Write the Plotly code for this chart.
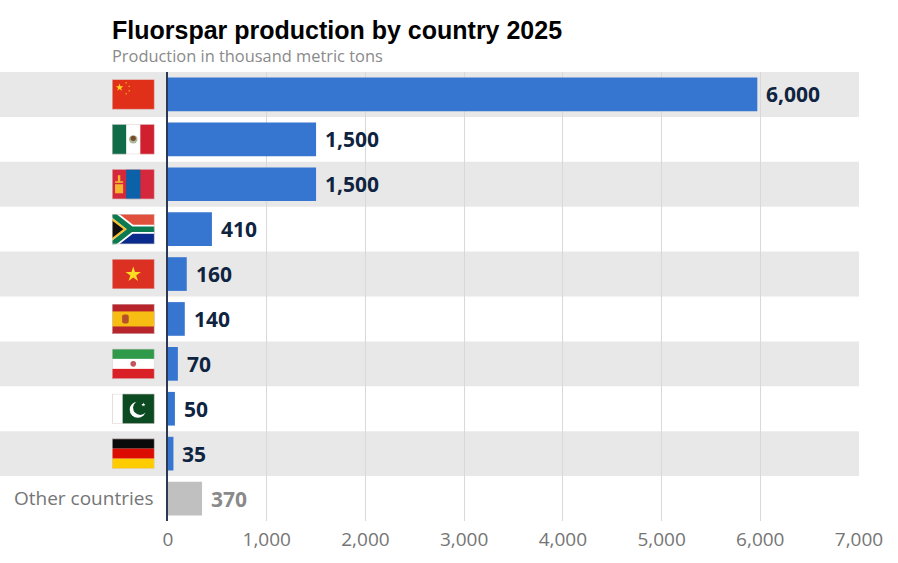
'''
Fluorspar production by country, horizontal bar chart with flag images
'''

import base64

import plotly.graph_objects as go

countries = ['China', 'Mexico', 'Mongolia', 'South Africa', 'Vietnam', 'Spain',
             'Iran', 'Pakistan', 'Germany', 'Other countries']
# bar lengths as drawn in the picture, they differ a bit from the printed labels
bar_lengths = [5970, 1500, 1500, 445, 190, 170, 100, 70, 55, 345]
value_labels = ['6,000', '1,500', '1,500', '410', '160', '140', '70', '50', '35', '370']
row_labels = ['', '', '', '', '', '', '', '', '', 'Other countries']
x_ticks = [0, 1000, 2000, 3000, 4000, 5000, 6000, 7000]
x_tick_labels = ['0', '1,000', '2,000', '3,000', '4,000', '5,000', '6,000', '7,000']

BLUE = '#3675d0'
GREY_BAR = '#c0c0c0'
NAVY = '#0f2440'
GREY_TEXT = '#757575'
BAND = '#e8e8e8'

W, H = 898, 563
M_L, M_R, M_T, M_B = 168, 39, 72, 42
PLOT_W = W - M_L - M_R
PLOT_H = H - M_T - M_B


def star(cx, cy, r, fill):
    pts = []
    for i, (dx, dy) in enumerate([(0, -1), (.225, -.31), (.95, -.31), (.36, .12), (.59, .81),
                                  (0, .38), (-.59, .81), (-.36, .12), (-.95, -.31), (-.225, -.31)]):
        pts.append(f'{cx + dx * r:.2f},{cy + dy * r:.2f}')
    return f'<polygon points="{" ".join(pts)}" fill="{fill}"/>'


FLAGS = {
    'China': '<rect width="42" height="30" fill="#e0301a"/>'
             + star(7.5, 8, 4, '#ffd51e') + star(14, 3.5, 1.1, '#ffd51e') + star(17, 7, 1.1, '#ffd51e')
             + star(17, 11.5, 1.1, '#ffd51e') + star(14, 14.5, 1.1, '#ffd51e'),
    'Mexico': '<rect width="42" height="30" fill="#fff"/>'
              '<rect width="14" height="30" fill="#0f6b48"/>'
              '<rect x="28" width="14" height="30" fill="#d0202f"/>'
              '<circle cx="21" cy="15" r="4.2" fill="#a9b79a"/><circle cx="21" cy="14" r="2.6" fill="#7a4a28"/>',
    'Mongolia': '<rect width="42" height="30" fill="#d5283c"/>'
                '<rect x="14" width="14" height="30" fill="#0b62a8"/>'
                '<rect x="3" y="15" width="8" height="9" fill="#f5b52e"/>'
                '<rect x="5.8" y="6" width="2.4" height="7" fill="#f5b52e"/>'
                '<rect x="3" y="12" width="8" height="1.6" fill="#f5b52e"/>',
    'South Africa': '<rect width="42" height="15" fill="#e0503c"/>'
                    '<rect y="15" width="42" height="15" fill="#0a2a8c"/>'
                    '<path d="M0 0 L19 15 L0 30 Z" fill="#111"/>'
                    '<path d="M0 0 L19 15 L42 15 M0 30 L19 15" stroke="#fff" stroke-width="9" fill="none"/>'
                    '<path d="M0 0 L19 15 L42 15 M0 30 L19 15" stroke="#0b7a50" stroke-width="5.5" fill="none"/>'
                    '<path d="M0 5 L13 15 L0 25" stroke="#f5bf2e" stroke-width="2" fill="#111"/>',
    'Vietnam': '<rect width="42" height="30" fill="#db3022"/>' + star(21, 15.5, 8, '#ffdc23'),
    'Spain': '<rect width="42" height="30" fill="#b8242c"/>'
             '<rect y="7.5" width="42" height="15" fill="#f7bd12"/>'
             '<rect x="10" y="10.5" width="6.5" height="9" rx="2" fill="#b5502a"/>',
    'Iran': '<rect width="42" height="30" fill="#fff"/>'
            '<rect width="42" height="10" fill="#2f9a4a"/>'
            '<rect y="20" width="42" height="10" fill="#da2027"/>'
            '<circle cx="21" cy="15" r="2.8" fill="#c1565c"/>',
    'Pakistan': '<rect width="42" height="30" fill="#fff"/>'
                '<rect x="10.5" width="31.5" height="30" fill="#0c4a22"/>'
                '<circle cx="25.5" cy="16" r="8" fill="#fff"/><circle cx="28" cy="14" r="7.2" fill="#0c4a22"/>'
                + star(31, 11, 2.2, '#fff'),
    'Germany': '<rect width="42" height="10" fill="#0a0a0a"/>'
               '<rect y="10" width="42" height="10" fill="#dd0c00"/>'
               '<rect y="20" width="42" height="10" fill="#ffcc00"/>',
}


def flag_uri(name):
    frame = '<rect x="0.3" y="0.3" width="41.4" height="29.4" fill="none" stroke="#d8c8c8" stroke-width="0.6"/>'
    svg = ('<svg xmlns="http://www.w3.org/2000/svg" viewBox="0 0 42 30" '
           f'width="168" height="120" preserveAspectRatio="none">{FLAGS[name]}{frame}</svg>')
    return 'data:image/svg+xml;base64,' + base64.b64encode(svg.encode()).decode()


bar_colors = [GREY_BAR if c == 'Other countries' else BLUE for c in countries]

fig = go.Figure(go.Bar(
    x=bar_lengths,
    y=countries,
    orientation='h',
    width=0.75,
    marker=dict(color=bar_colors, line=dict(width=0)),
    hoverinfo='skip',
))

# grey bands on every other row, running out to the left page edge
for i in range(0, 9, 2):
    fig.add_shape(type='rect', layer='below', xref='paper', yref='y',
                  x0=-M_L / PLOT_W, x1=1, y0=i - 0.5, y1=i + 0.5,
                  fillcolor=BAND, line=dict(width=0))

for c in countries:
    if c in FLAGS:
        fig.add_layout_image(source=flag_uri(c), xref='paper', yref='y',
                             x=(112 - M_L) / PLOT_W, y=c,
                             sizex=42.5 / PLOT_W, sizey=0.67,
                             xanchor='left', yanchor='middle', sizing='stretch', layer='above')

for c, v, lab in zip(countries, bar_lengths, value_labels):
    fig.add_annotation(x=v, y=c, xref='x', yref='y', text=f'<b>{lab}</b>', showarrow=False,
                       xanchor='left', xshift=7,
                       font=dict(family='Open Sans', size=21,
                                 color='#8a8a8a' if c == 'Other countries' else NAVY))

fig.add_annotation(x=(112 - M_L) / PLOT_W, y=1 + (M_T - 55) / PLOT_H, xref='paper', yref='paper',
                   text='Production in thousand metric tons', showarrow=False,
                   xanchor='left', yanchor='middle', xshift=-2,
                   font=dict(family='Open Sans', size=16.4, color='#8a8a8a'))

fig.update_layout(
    width=W,
    height=H,
    autosize=False,
    margin=dict(l=M_L, r=M_R, t=M_T, b=M_B, pad=0),
    paper_bgcolor='white',
    plot_bgcolor='rgba(0,0,0,0)',
    showlegend=False,
    title=dict(text='<b>Fluorspar production by country 2025</b>',
               x=112 / W, xanchor='left', xref='container',
               y=1 - 30 / H, yanchor='middle', yref='container',
               font=dict(family='Liberation Sans', size=25, color='black')),
    xaxis=dict(range=[0, 7000], tickvals=x_ticks, ticktext=x_tick_labels, automargin=False,
               showgrid=True, gridcolor='#d9d9d9', gridwidth=1, zeroline=False,
               showline=False, ticks='', ticklabelstandoff=5,
               tickfont=dict(family='Open Sans', size=19, color=GREY_TEXT)),
    yaxis=dict(type='category', categoryorder='array', categoryarray=countries,
               autorange=False, range=[9.5, -0.5], tickvals=countries, ticktext=row_labels,
               automargin=False,
               showgrid=False, zeroline=False, showline=True, linecolor='#2b3a52', linewidth=1.5,
               ticks='', ticklabelstandoff=9,
               tickfont=dict(family='Open Sans', size=19, color=GREY_TEXT)),
)

# the page's default body margin would push the whole chart down and right
fig.write_html('out.html', config=dict(displayModeBar=False),
               post_script="document.body.style.margin = '0';")
